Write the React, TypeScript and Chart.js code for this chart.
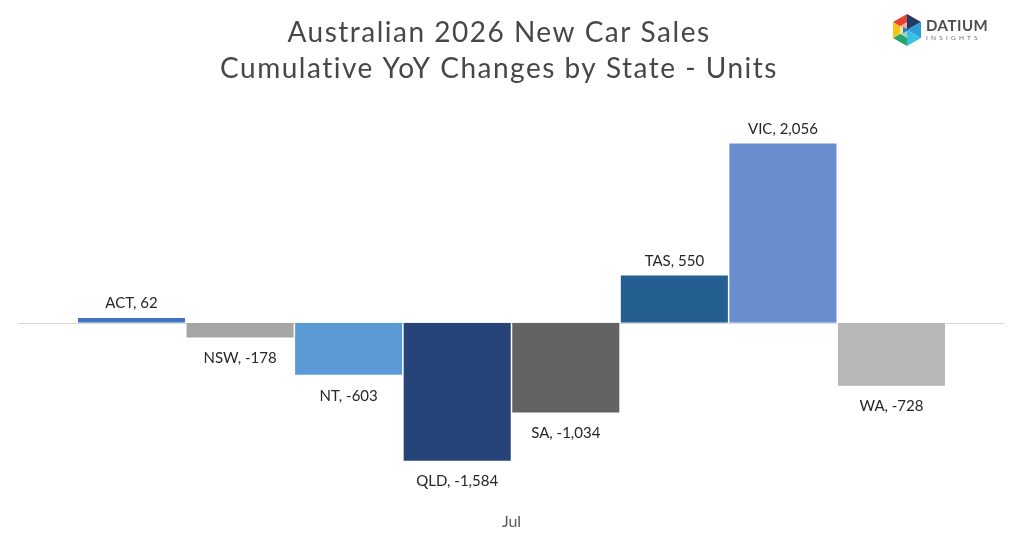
import React, { useEffect, useRef } from 'react';
import { Chart, registerables, Plugin } from 'chart.js';

Chart.register(...registerables);

const categories = ['Jul'];
const states = ['ACT', 'NSW', 'NT', 'QLD', 'SA', 'TAS', 'VIC', 'WA'];
const changes = [62, -178, -603, -1584, -1034, 550, 2056, -728];
const colours = ['#4472C4', '#A5A5A5', '#5B9BD5', '#264478', '#636363', '#255E91', '#698ED0', '#B7B7B7'];
const titleLines = ['Australian 2026 New Car Sales', 'Cumulative YoY Changes by State - Units'];

const FONT = 'Lato, "Open Sans", sans-serif';

// title lines are drawn by hand so they sit a little left of centre like the original
const titlePlugin: Plugin<'bar'> = {
  id: 'twoLineTitle',
  afterDraw(chart) {
    const { ctx } = chart;
    ctx.save();
    ctx.fillStyle = '#474747';
    ctx.font = `28px ${FONT}`;
    (ctx as any).letterSpacing = '1.5px';
    ctx.textAlign = 'center';
    ctx.textBaseline = 'middle';
    ctx.fillText(titleLines[0], 499, 33);
    ctx.fillText(titleLines[1], 499, 69);
    ctx.restore();
  },
};

const zeroLinePlugin: Plugin<'bar'> = {
  id: 'zeroLine',
  beforeDatasetsDraw(chart) {
    const { ctx, chartArea, scales } = chart;
    const y = Math.round(scales.y.getPixelForValue(0)) + 0.5;
    ctx.save();
    ctx.strokeStyle = '#D9D9D9';
    ctx.lineWidth = 1;
    ctx.beginPath();
    ctx.moveTo(chartArea.left, y);
    ctx.lineTo(chartArea.right, y);
    ctx.stroke();
    ctx.restore();
  },
};

const barLabelPlugin: Plugin<'bar'> = {
  id: 'barLabels',
  afterDatasetsDraw(chart) {
    const { ctx } = chart;
    ctx.save();
    ctx.font = `15px ${FONT}`;
    ctx.fillStyle = '#262626';
    ctx.textAlign = 'center';
    ctx.textBaseline = 'alphabetic';
    chart.data.datasets.forEach((ds, i) => {
      const bar = chart.getDatasetMeta(i).data[0] as any;
      const v = ds.data[0] as number;
      const text = `${ds.label}, ${v.toLocaleString('en-US')}`;
      const y = v >= 0 ? bar.y - 9 : bar.y + 25;
      ctx.fillText(text, bar.x, y);
    });
    ctx.restore();
  },
};

const Logo: React.FC = () => (
  <div style={{ position: 'absolute', left: 891, top: 13, display: 'flex', alignItems: 'center' }}>
    <svg width="32" height="34" viewBox="0 0 32 34">
      <polygon points="16,1 30,9 16,17" fill="#1f3b66" />
      <polygon points="30,9 30,25 16,17" fill="#2a9fd8" />
      <polygon points="30,25 16,33 16,17" fill="#3cc0e0" />
      <polygon points="16,33 2,25 16,17" fill="#27a36b" />
      <polygon points="2,25 2,9 16,17" fill="#f5c21b" />
      <polygon points="2,9 16,1 16,17" fill="#e8432f" />
      <polygon points="9,13 16,9 16,25 9,21" fill="#ffffff" opacity="0.55" />
      <polygon points="12,14 18,17 12,20" fill="#1f7fc4" />
    </svg>
    <div style={{ marginLeft: 3, fontFamily: FONT, lineHeight: 1 }}>
      <div style={{ fontSize: 15, fontWeight: 700, color: '#4d4d4d', letterSpacing: 0.5 }}>DATIUM</div>
      <div style={{ fontSize: 6.5, color: '#6d6d6d', letterSpacing: 3.2, marginTop: 2 }}>INSIGHTS</div>
    </div>
  </div>
);

export default function App() {
  const canvasRef = useRef<HTMLCanvasElement>(null);
  const chartRef = useRef<Chart | null>(null);

  useEffect(() => {
    document.body.style.margin = '0';
    if (!canvasRef.current) return;
    const ctx = canvasRef.current.getContext('2d');
    if (!ctx) return;

    chartRef.current?.destroy();

    chartRef.current = new Chart(ctx, {
      type: 'bar',
      data: {
        labels: categories,
        datasets: states.map((s, i) => ({
          label: s,
          data: [changes[i]],
          backgroundColor: colours[i],
          borderColor: 'rgba(255,255,255,0.5)',
          borderWidth: 0.75,
          categoryPercentage: 0.88,
          barPercentage: 1,
        })),
      },
      options: {
        responsive: true,
        maintainAspectRatio: false,
        animation: false,
        layout: { padding: { top: 104, left: 18, right: 19, bottom: 3 } },
        plugins: {
          legend: { display: false },
          title: { display: false },
          tooltip: { enabled: false },
        },
        scales: {
          x: {
            grid: { display: false },
            border: { display: false },
            ticks: { color: '#595959', font: { family: FONT, size: 16 }, padding: 6 },
          },
          y: {
            display: false,
            min: -2000,
            max: 2500,
          },
        },
      },
      plugins: [zeroLinePlugin, barLabelPlugin, titlePlugin],
    });

    return () => {
      chartRef.current?.destroy();
      chartRef.current = null;
    };
  }, []);

  return (
    <div style={{ position: 'relative', width: 1024, height: 540, background: '#fff' }}>
      <canvas ref={canvasRef} />
      <Logo />
    </div>
  );
}
